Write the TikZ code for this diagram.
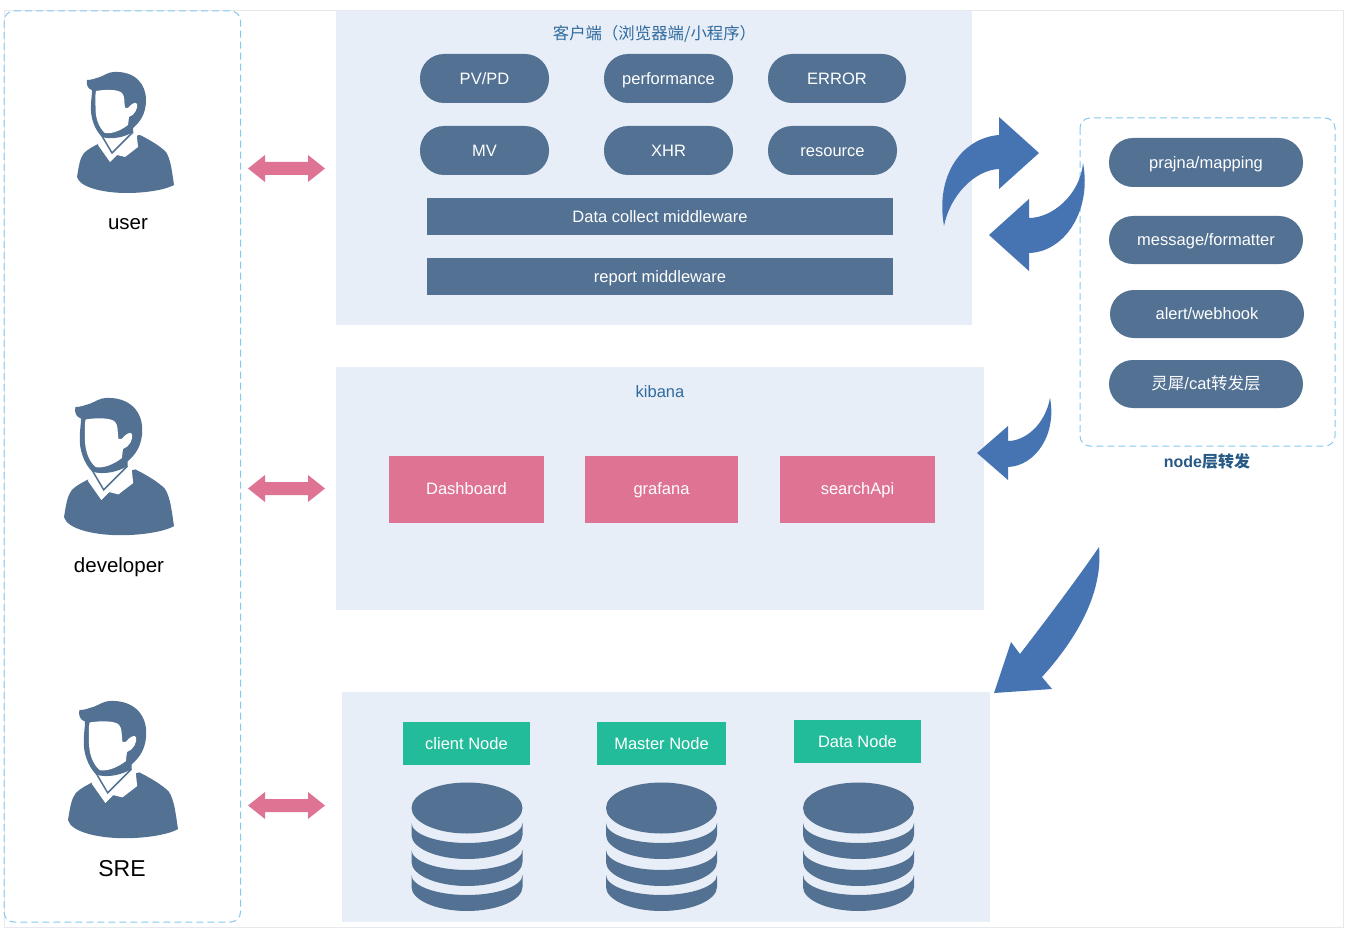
\documentclass[tikz,border=0pt]{standalone}
\usepackage{fontspec}
\setmainfont{Liberation Sans}
\newfontfamily\cjk{Noto Sans CJK SC}
\definecolor{panelbg}{HTML}{E8EEF7}
\definecolor{slate}{HTML}{527193}
\definecolor{pinkc}{HTML}{DF7394}
\definecolor{greenc}{HTML}{22BC9A}
\definecolor{bluearrow}{HTML}{4673B1}
\definecolor{dashc}{HTML}{86C8EF}
\definecolor{framec}{HTML}{E6E8EC}
\definecolor{headc}{HTML}{2F6A9E}
\newcommand{\dblayer}[1]{%
  \fill[slate] (-55.5,#1) .. controls (-55.5,#1+11) and (-30.6,#1+20) .. (0,#1+20)
    .. controls (30.6,#1+20) and (55.5,#1+11) .. (55.5,#1) -- (55.5,#1+12)
    .. controls (55.5,#1+25) and (30.6,#1+36) .. (0,#1+36)
    .. controls (-30.6,#1+36) and (-55.5,#1+25) .. (-55.5,#1+12) -- cycle;}
\tikzset{
  x=1pt,y=-1pt,
  base/.style={inner sep=0pt,outer sep=0pt,align=center,text height=14pt,text depth=2.5pt,font=\fontsize{16.5}{18}\selectfont},
  panel/.style={fill=panelbg,draw=none},
  pill/.style={base,fill=slate,text=white,rounded corners=24pt},
  bar/.style={base,fill=slate,text=white},
  pinkbox/.style={base,fill=pinkc,text=white},
  greenbox/.style={base,fill=greenc,text=white},
  dashbox/.style={draw=dashc,line width=1pt,dash pattern=on 7pt off 4pt,rounded corners=10pt},
  bigarrow/.style={fill=bluearrow,draw=none},
  dblarrow/.style={fill=pinkc,draw=none},
  who/.style={base,text=black},
  heading/.style={base,text=headc},
  persona/.pic={
    \begin{scope}[shift={(-77,-72)}]
      % body
      \fill[slate] (77,177) .. controls (79,165) and (80,158) .. (84,153)
        .. controls (88,149) and (94,146) .. (100,143)
        -- (140,135) .. controls (150,140) and (160,146) .. (166,152)
        .. controls (171,160) and (172,172) .. (174,185)
        .. controls (165,190) and (145,193) .. (127,193)
        .. controls (105,193) and (80,188) .. (77,177) -- cycle;
      % collar and neck
      \fill[white] (98,145) -- (110,162) -- (117,155) -- (125,157) -- (138,147)
        -- (136,128) -- (104,130) -- cycle;
      \draw[slate,line width=1.5pt,line join=miter] (102,136) -- (112,153) -- (133,132);
      % head and hair
      \fill[slate] (87,80) .. controls (92,80) and (96,78) .. (100,77)
        .. controls (105,75) and (109,72) .. (114,72)
        .. controls (135,71) and (146,84) .. (146,100)
        .. controls (146,114) and (140,122) .. (133,128)
        -- (133,132) .. controls (125,137) and (112,140) .. (102,137)
        .. controls (95,130) and (90,118) .. (91,105)
        .. controls (91,100) and (92,95) .. (92,90)
        .. controls (88,89) and (86,85) .. (87,80) -- cycle;
      % face and ear
      \fill[white] (96,91) .. controls (104,89.5) and (118,89) .. (122,93)
        .. controls (125,96) and (124,102) .. (125,108)
        -- (128,108) .. controls (131,104) and (136,101) .. (137,104)
        .. controls (138,108) and (135,115) .. (129,117)
        -- (128,125) .. controls (120,131) and (112,134) .. (105,133)
        .. controls (99,128) and (95,118) .. (95.5,106)
        .. controls (95.5,101) and (95,96) .. (96,91) -- cycle;
    \end{scope}
  },
  database/.pic={
    \fill[slate] (0,0) ellipse [x radius=55.5,y radius=25.5];
    \dblayer{15}
    \dblayer{42}
    \dblayer{67}
  }
}
\begin{document}
\begin{tikzpicture}
\useasboundingbox (0,0) rectangle (1346,928);
\fill[white] (0,0) rectangle (1346,928);
\draw[framec,line width=1pt] (4,10.5) rectangle (1343.5,927);

% panels
\fill[panel] (336,11) rectangle (972,325);
\fill[panel] (336,367) rectangle (984,610);
\fill[panel] (342,692) rectangle (990,922);

% dashed groups
\draw[dashbox] (4,11) rectangle (240.5,922);
\draw[dashbox] (1080,118) rectangle (1335,446);

% persons
\pic at (77,72) {persona};
\pic[scale=1.134] at (64,398) {persona};
\pic[scale=1.134] at (68,701) {persona};
\node[who,font=\fontsize{20.5}{22}\selectfont] (user) at (128,224) {user};
\node[who,font=\fontsize{20.5}{22}\selectfont] (dev) at (119,566.5) {developer};
\node[who,font=\fontsize{23}{25}\selectfont] (sre) at (122,870.5) {SRE};

% double arrows
\foreach \yy in {168.5,488.5,805.5}
  \fill[dblarrow] (248,\yy) -- (265,\yy-13.5) -- (265,\yy-6.5) -- (308,\yy-6.5) -- (308,\yy-13.5)
    -- (325,\yy) -- (308,\yy+13.5) -- (308,\yy+6.5) -- (265,\yy+6.5) -- (265,\yy+13.5) -- cycle;

% client panel
\node[heading,font=\fontsize{16.4}{18}\cjk\selectfont] (clienttitle) at (654.5,34) {客户端（浏览器端/小程序）};
\node[pill,minimum width=129pt,minimum height=49pt] (pv) at (484.5,78.5) {PV/PD};
\node[pill,minimum width=129pt,minimum height=49pt] (perf) at (668.5,78.5) {performance};
\node[pill,minimum width=138pt,minimum height=49pt] (err) at (837,78.5) {ERROR};
\node[pill,minimum width=129pt,minimum height=49pt] (mv) at (484.5,150.5) {MV};
\node[pill,minimum width=129pt,minimum height=49pt] (xhr) at (668.5,150.5) {XHR};
\node[pill,minimum width=129pt,minimum height=49pt] (res) at (832.5,150.5) {resource};
\node[bar,minimum width=466pt,minimum height=37pt] (collect) at (660,216.5) {Data collect middleware};
\node[bar,minimum width=466pt,minimum height=37pt] (report) at (660,276.5) {report middleware};

% kibana panel
\node[heading] (kibana) at (660,391.5) {kibana};
\node[pinkbox,minimum width=155pt,minimum height=67pt] (dash) at (466.5,489) {Dashboard};
\node[pinkbox,minimum width=153pt,minimum height=67pt] (graf) at (661.5,489) {grafana};
\node[pinkbox,minimum width=155pt,minimum height=67pt] (search) at (857.5,489) {searchApi};

% storage panel
\node[greenbox,minimum width=127pt,minimum height=43pt] (cn) at (466.5,743.5) {client Node};
\node[greenbox,minimum width=129pt,minimum height=43pt] (mn) at (661.5,743.5) {Master Node};
\node[greenbox,minimum width=127pt,minimum height=43pt] (dn) at (857.5,741.5) {Data Node};
\pic at (467,808) {database};
\pic at (661.5,808) {database};
\pic at (858.5,808) {database};

% node layer
\node[pill,minimum width=194pt,minimum height=49pt] (pm) at (1206,162.5) {prajna/mapping};
\node[pill,minimum width=194pt,minimum height=48pt] (mf) at (1206,240) {message/formatter};
\node[pill,minimum width=194pt,minimum height=48pt] (aw) at (1207,314) {alert/webhook};
\node[pill,minimum width=194pt,minimum height=48pt] (lx) at (1206,384) {{\cjk 灵犀}/cat{\cjk 转发层}};
\node[base,text=headc!85!black,font=\fontsize{16}{18}\selectfont\bfseries] (nodelabel) at (1207,461.5) {node{\cjk\bfseries 层转发}};

% big curved arrows
\fill[bigarrow] (1039,153) -- (999,117) -- (999,135)
  .. controls (962,138) and (935,175) .. (944,226)
  .. controls (950,195) and (975,170) .. (999,169)
  -- (999,189) -- cycle;
\fill[bigarrow] (1083,163) .. controls (1092,210) and (1065,252) .. (1029,253)
  -- (1029,271) -- (989,235) -- (1029,199) -- (1029,218)
  .. controls (1052,218) and (1080,195) .. (1083,163) -- cycle;
\fill[bigarrow] (1050,398) .. controls (1057,435) and (1035,466) .. (1008,467)
  -- (1008,480) -- (977,453) -- (1008,426) -- (1008,441)
  .. controls (1025,441) and (1045,425) .. (1050,398) -- cycle;
\fill[bigarrow] (1099,547) .. controls (1103,590) and (1080,635) .. (1042,677)
  -- (1052,689) -- (994,693) -- (1011,642) -- (1020,654)
  .. controls (1050,615) and (1080,575) .. (1099,547) -- cycle;
\end{tikzpicture}
\end{document}
